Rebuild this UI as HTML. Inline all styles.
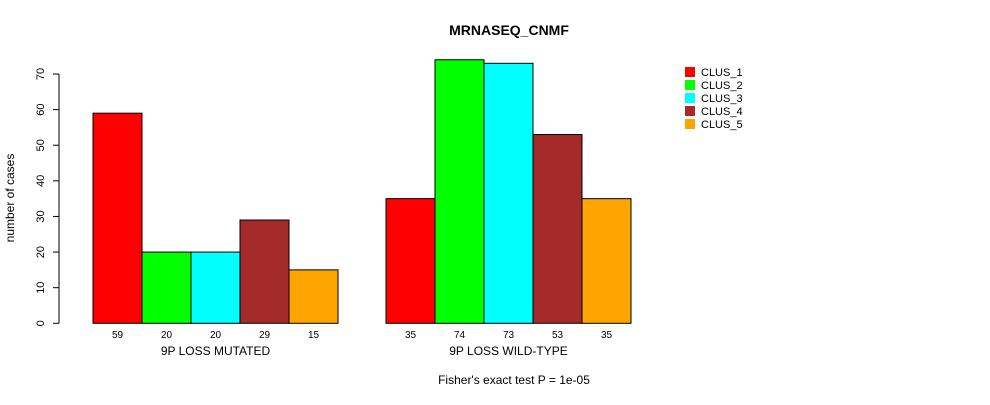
<!DOCTYPE html>
<html><head><style>
body{margin:0;background:#fff;}
svg text{font-family:"Liberation Sans",sans-serif;}
</style></head><body>
<svg id="c" width="990" height="400" xmlns="http://www.w3.org/2000/svg">
<text x="509" y="35" font-size="14" font-weight="bold" text-anchor="middle">MRNASEQ_CNMF</text>
<text transform="translate(14,198) rotate(-90)" font-size="12" text-anchor="middle">number of cases</text>
<text x="514" y="384" font-size="12" text-anchor="middle">Fisher's exact test P = 1e-05</text>
<g id="axis"></g><g id="bars"></g><g id="legend"></g>
</svg>
<script>
const categories=["9P LOSS MUTATED","9P LOSS WILD-TYPE"];
const seriesNames=["CLUS_1","CLUS_2","CLUS_3","CLUS_4","CLUS_5"];
const colors=["#ff0000","#00ff00","#00ffff","#a52a2a","#ffa500"];
const mutated=[59,20,20,29,15];
const wildtype=[35,74,73,53,35];
const yTicks=[0,10,20,30,40,50,60,70];
const NS="http://www.w3.org/2000/svg";
const y0=323.3,yPer=(323.3-74)/70;
const y=v=>y0-v*yPer;
const groupX=[93,386],bw=49;
const x=(g,i)=>groupX[g]+i*bw;
function mk(t,a,p){const e=document.createElementNS(NS,t);for(const k in a)e.setAttribute(k,a[k]);p.appendChild(e);return e;}
const ax=document.getElementById('axis');
const al=mk('line',{x1:59,x2:59,y1:y(0),y2:y(70),stroke:'#000'},ax);


yTicks.forEach(t=>{
 const l=mk('line',{x1:53,x2:59,y1:y(t),y2:y(t),stroke:'#000'},ax);
 
 
 const tx=mk('text',{transform:`translate(44,${y(t)}) rotate(-90)`,'font-size':11,'text-anchor':'middle'},ax);
 tx.textContent=t;
 
 
});
const bg=document.getElementById('bars');
[mutated,wildtype].forEach((vals,g)=>{
 vals.forEach((v,i)=>{
  const r=mk('rect',{x:x(g,i),y:y(v),width:bw,height:y(0)-y(v),fill:colors[i],stroke:'#000'},bg);
  
  
  const t=mk('text',{x:x(g,i)+bw/2,y:338,'font-size':10,'text-anchor':'middle'},bg);
  t.textContent=v;
  
  
 });
 const c=mk('text',{x:groupX[g]+bw*2.5,y:355,'font-size':12,'text-anchor':'middle'},bg);
 c.textContent=categories[g];
 
 
});
const lg=document.getElementById('legend');
seriesNames.forEach((n,i)=>{
 const yy=67+i*13;
 const s=mk('rect',{x:685,y:yy,width:10,height:10,fill:colors[i]},lg);
 
 
 const t=mk('text',{x:701,y:yy+9,'font-size':11},lg);
 t.textContent=n;
 
 
});
</script>
</body></html>
